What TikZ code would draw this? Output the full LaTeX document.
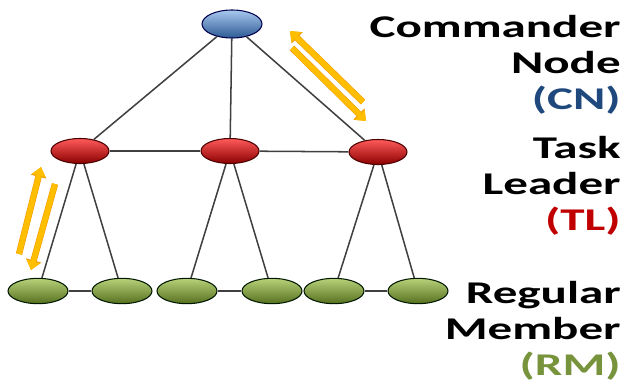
\documentclass[tikz,border=0pt]{standalone}
\usepackage{fontspec}
\usetikzlibrary{shapes.geometric, arrows.meta}

\newfontfamily\labelfont{Carlito}[FakeStretch=1.55]
\definecolor{cnblue}{HTML}{1F497D}
\definecolor{tlred}{HTML}{C00000}
\definecolor{rmgreen}{HTML}{77933C}
\definecolor{relayfill}{HTML}{FFBE00}
\definecolor{relayedge}{HTML}{F29B00}

\begin{document}
\begin{tikzpicture}[
                x = 0.03cm, y = -0.03cm, % one unit per pixel, y down
                semithick, % line style
                level/.style = {ellipse, inner sep = 0pt, line width = 0.9pt},
                cnode/.style = {level, minimum width = 1.8cm, minimum height = 0.84cm,
                    draw = blue!30!black, top color = {rgb,255:red,168;green,200;blue,238},
                    middle color = {rgb,255:red,90;green,138;blue,203},
                    bottom color = {rgb,255:red,45;green,90;blue,148}},
                tlnode/.style = {level, minimum width = 1.74cm, minimum height = 0.75cm,
                    draw = red!30!black, top color = {rgb,255:red,255;green,90;blue,90},
                    middle color = {rgb,255:red,224;green,0;blue,0},
                    bottom color = {rgb,255:red,140;green,0;blue,0}},
                rmnode/.style = {level, minimum width = 1.8cm, minimum height = 0.76cm,
                    draw = green!10!black, top color = {rgb,255:red,184;green,210;blue,122},
                    middle color = {rgb,255:red,140;green,174;blue,69},
                    bottom color = {rgb,255:red,86;green,112;blue,31}},
                link/.style = {draw = black!75, line width = 1.3pt},
                relay/.style = {draw = relayfill, line width = 4.5pt,
                    -{Triangle[width = 11.5pt, length = 7.5pt]},
                    preaction = {draw = relayedge, line width = 5.5pt,
                        -{Triangle[width = 13pt, length = 8.5pt]}}},
                tag/.style = {anchor = base east, inner sep = 0pt, align = right,
                    font = \labelfont\bfseries\fontsize{27}{30.6}\selectfont}
            ]

            \useasboundingbox (0,0) rectangle (629,385);

            % commander, task leaders, regular members
            \node[cnode] (cn) at (232,24) {};
            \node[tlnode] (tl1) at (80,151) {};
            \node[tlnode] (tl2) at (230,151) {};
            \node[tlnode] (tl3) at (378,152) {};
            \node[rmnode] (rm1) at (38,291) {};
            \node[rmnode] (rm2) at (122,291) {};
            \node[rmnode] (rm3) at (187,291) {};
            \node[rmnode] (rm4) at (272,291) {};
            \node[rmnode] (rm5) at (334,291) {};
            \node[rmnode] (rm6) at (418,291) {};

            \path[link] (cn) edge (tl1) (cn) edge (tl2) (cn) edge (tl3);
            \path[link] (tl1) edge (tl2) (tl2) edge (tl3);
            \path[link] (tl1) edge (rm1) (tl1) edge (rm2);
            \path[link] (tl2) edge (rm3) (tl2) edge (rm4);
            \path[link] (tl3) edge (rm5) (tl3) edge (rm6);
            \path[link] (rm1) edge (rm2) (rm3) edge (rm4) (rm5) edge (rm6);

            % two-way exchange arrows
            \coordinate (up1a) at (363,102); \coordinate (up1b) at (290,31);
            \coordinate (dn1a) at (292,48); \coordinate (dn1b) at (366,121);
            \coordinate (up2a) at (19,254); \coordinate (up2b) at (41,167);
            \coordinate (dn2a) at (55,184); \coordinate (dn2b) at (31,270);
            \draw[relay] (up1a) -- (up1b);
            \draw[relay] (dn1a) -- (dn1b);
            \draw[relay] (up2a) -- (up2b);
            \draw[relay] (dn2a) -- (dn2b);

            % level names (base is the last line)
            \node[tag] (cnlabel) at (621,109) {Commander\\Node\\\textcolor{cnblue}{(CN)}};
            \node[tag] (tllabel) at (621,230) {Task\\Leader\\\textcolor{tlred}{(TL)}};
            \node[tag] (rmlabel) at (621,375) {Regular\\Member\\\textcolor{rmgreen}{(RM)}};

        \end{tikzpicture}
\end{document}
